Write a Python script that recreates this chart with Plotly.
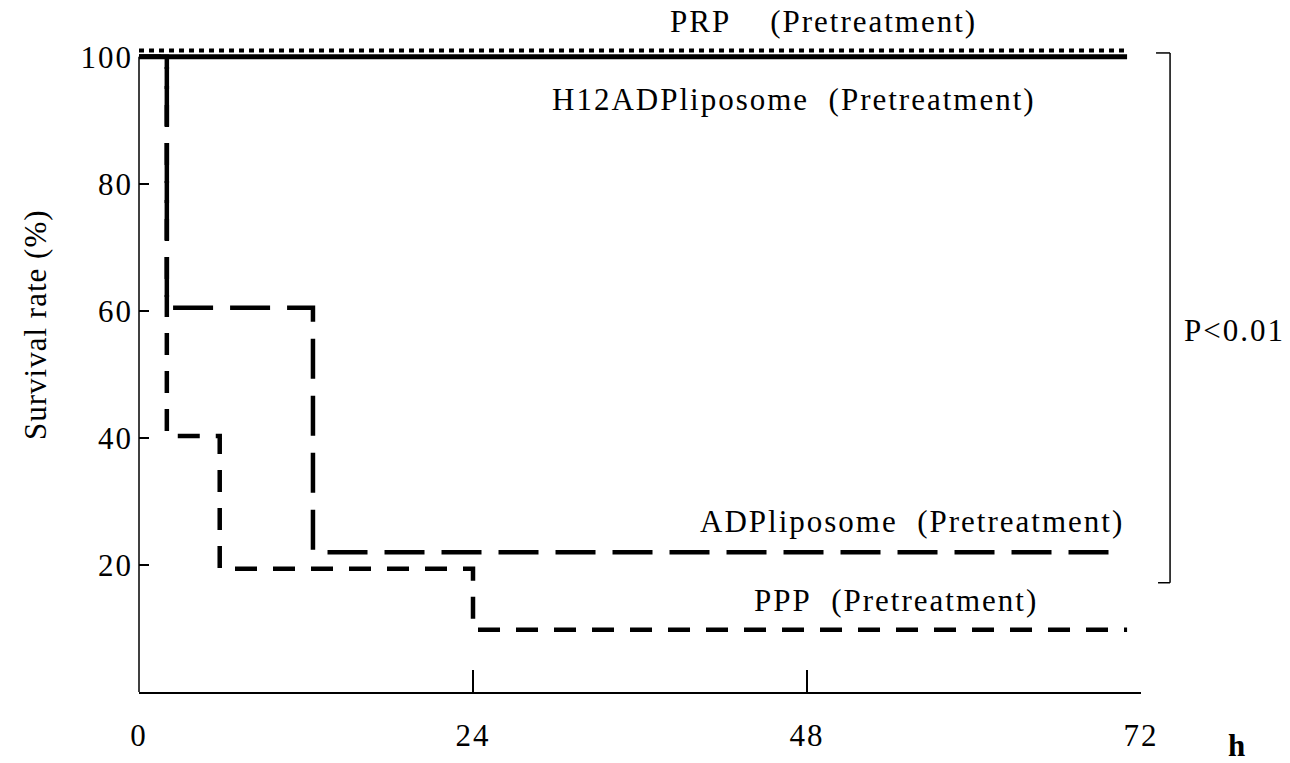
import plotly.graph_objects as go

# ---- data ----
prp_x = [0, 71]
prp_y = [101, 101]
h12_x = [0, 71]
h12_y = [100, 100]
adp_x = [0, 2, 12.5, 70.5]
adp_y = [100, 60.5, 22, 22]
ppp_x = [0, 2, 5.8, 24, 71]
ppp_y = [100, 40.3, 19.4, 9.8, 9.8]

x_ticks = [0, 24, 48, 72]
x_labels = ["0", "24", "48", "72"]
y_ticks = [20, 40, 60, 80, 100]
y_labels = ["20", "40", "60", "80", "100"]

FONT = "Liberation Serif, Times New Roman, serif"
FS = 31


def sp(t, ls=2):
    return '<span style="letter-spacing:%spx">%s</span>' % (ls, t)


fig = go.Figure()
fig.add_trace(go.Scatter(x=ppp_x, y=ppp_y, mode="lines", line_shape="hv",
                         line=dict(color="black", width=4.5, dash="22px,16px"),
                         name="PPP (Pretreatment)"))
fig.add_trace(go.Scatter(x=adp_x, y=adp_y, mode="lines", line_shape="hv",
                         line=dict(color="black", width=4.5, dash="40px,17px"),
                         name="ADPliposome (Pretreatment)"))
fig.add_trace(go.Scatter(x=h12_x, y=h12_y, mode="lines", line_shape="hv",
                         line=dict(color="black", width=5),
                         name="H12ADPliposome (Pretreatment)"))
fig.add_trace(go.Scatter(x=prp_x, y=prp_y, mode="lines", line_shape="hv",
                         line=dict(color="black", width=4, dash="5px,5px"),
                         name="PRP (Pretreatment)"))

NB = "\u00a0"
ann = [
    dict(text=sp("PRP" + NB * 4 + "(Pretreatment)"), x=0.528, y=1.0045, xanchor="left"),
    dict(text=sp("H12ADPliposome" + NB * 2 + "(Pretreatment)"), x=0.410, y=0.8876, xanchor="left"),
    dict(text=sp("ADPliposome" + NB * 2 + "(Pretreatment)"), x=0.558, y=0.2549, xanchor="left"),
    dict(text=sp("PPP" + NB * 2 + "(Pretreatment)"), x=0.612, y=0.1379, xanchor="left"),
    dict(text=sp("P&lt;0.01"), x=1.0938, y=0.5427, xanchor="center"),
    dict(text="<b>h</b>", x=1.0958, y=-0.0795, xanchor="center"),
]
for a in ann:
    fig.add_annotation(xref="paper", yref="paper", showarrow=False, yanchor="middle",
                       font=dict(family=FONT, size=FS, color="black"), **a)

fig.add_annotation(xref="paper", yref="paper", x=-0.104, y=0.55, text=sp("Survival rate (%)", 1),
                   textangle=-90, showarrow=False, xanchor="center", yanchor="middle",
                   font=dict(family=FONT, size=FS, color="black"))

# y axis line (stops at 100) and significance bracket
fig.add_shape(type="line", xref="paper", yref="y", x0=0, x1=0, y0=0, y1=100,
              line=dict(color="black", width=1.5))
for (x0, y0, x1, y1) in [(1.015, 100.6, 1.029, 100.6), (1.029, 100.6, 1.029, 17.2),
                         (1.017, 17.2, 1.029, 17.2)]:
    fig.add_shape(type="line", xref="paper", yref="y", x0=x0, x1=x1, y0=y0, y1=y1,
                  line=dict(color="black", width=1.5))

fig.update_layout(
    width=1290, height=763,
    margin=dict(l=139, r=149, t=25, b=71, autoexpand=False),
    paper_bgcolor="white", plot_bgcolor="white",
    showlegend=False,
    font=dict(family=FONT, size=FS, color="black"),
)
fig.update_xaxes(range=[0, 72], tickvals=x_ticks, ticktext=[sp(t) for t in x_labels],
                 ticks="inside", automargin=False,
                 ticklen=22, tickwidth=1.5, tickcolor="black", showline=True,
                 linecolor="black", linewidth=1.5, showgrid=False, zeroline=False,
                 ticklabelstandoff=15, tickfont=dict(family=FONT, size=FS))
fig.update_yaxes(range=[0, 105], tickvals=y_ticks, ticktext=[sp(t) for t in y_labels],
                 ticks="inside", automargin=False,
                 ticklen=10, tickwidth=1.5, tickcolor="black", showline=False,
                 showgrid=False, zeroline=False, ticklabelstandoff=5,
                 tickfont=dict(family=FONT, size=FS))

fig.write_html("out.html")
